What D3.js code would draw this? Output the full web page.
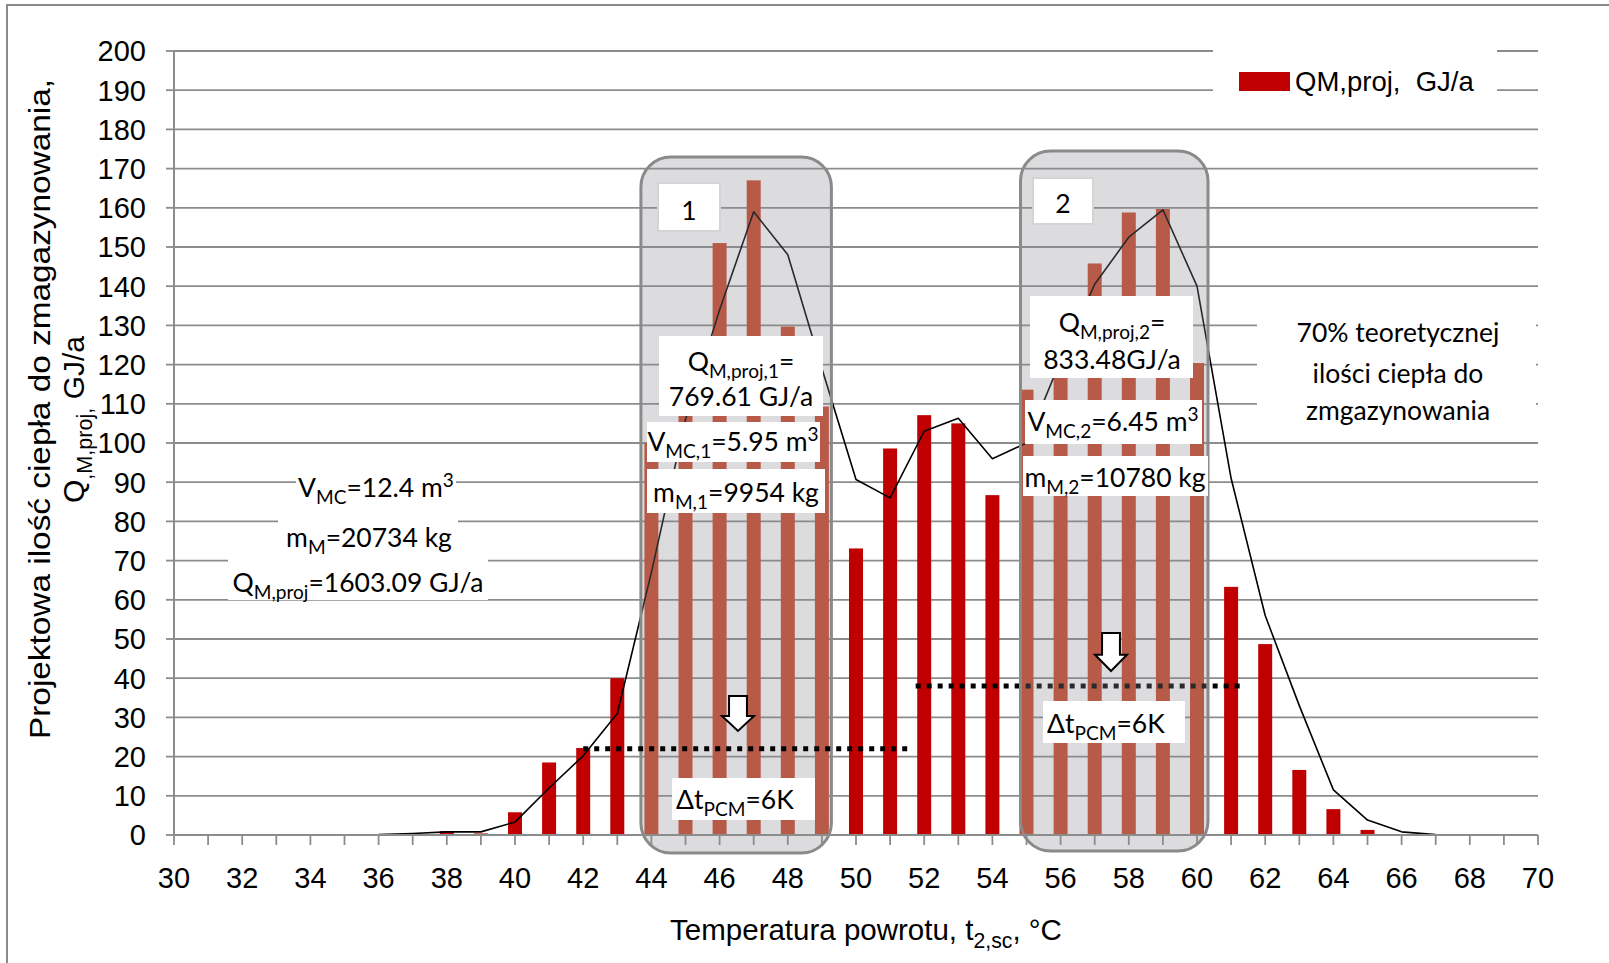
<!DOCTYPE html>
<html>
<head>
<meta charset="utf-8">
<script src="https://cdn.jsdelivr.net/npm/d3@7"></script>
<style>
  body { margin: 0; background: #fff; }
  svg { display: block; }
</style>
</head>
<body>
<svg id="chart" width="1609" height="963"></svg>
<script>
// Return temperature classes (°C) and design heat to be stored per class (GJ/a)
const temps = d3.range(31, 70);
const storedHeat = [
  0, 0, 0, 0, 0, 0, 0,            // 31–37
  1.0, 0.4, 5.8, 18.5, 22.2, 40,  // 38–43
  100, 112.5, 151, 167, 129.7, 109.3, // 44–49 (zone 1)
  73.1, 98.6, 107.1, 105, 86.7,   // 50–54
  113.6, 135.2, 145.8, 158.8, 159.7, 120.4, // 55–60 (zone 2)
  63.3, 48.7, 16.6, 6.6, 1.3,     // 61–65
  0, 0, 0, 0                      // 66–69
];

// Theoretical heat distribution curve
const curveTemps = d3.range(30, 71);
const curveHeat = [
  0, 0, 0, 0, 0, 0, 0.1, 0.4, 0.8, 0.8,
  3.3, 12, 20.2, 31, 67, 106, 134, 159, 148, 119,
  90.7, 86, 103, 106.3, 96, 100, 121, 140.5, 152.5, 159.5,
  140, 91, 56, 33, 11.5, 3.8, 0.8, 0.1, 0, 0, 0
];

const xTickLabels = d3.range(30, 71, 2);
const yTickLabels = d3.range(0, 201, 10);

// Storage zones (first and last temperature class in each)
const zoneStart = [44, 55];
const zoneEnd = [49, 60];
const zoneNames = ["1", "2"];

// PCM temperature-difference levels: [from °C, to °C, GJ/a]
const pcmFrom = [42, 51.75];
const pcmTo = [51.6, 61.4];
const pcmLevel = [22, 38];

const svg = d3.select("#chart");
const ARIAL = "'Liberation Sans', Arial, sans-serif";
const LABEL = "Lato, 'Open Sans', sans-serif";

const x = d3.scaleLinear().domain([30, 70]).range([174, 1538]);
const y = d3.scaleLinear().domain([0, 200]).range([835, 51]);
const unit = x(1) - x(0);
const barW = unit * 0.41;
const inZone = t => zoneStart.some((s, i) => t >= s && t <= zoneEnd[i]);

// Outer chart frame
svg.append("rect").attr("x", 7).attr("y", 5).attr("width", 1700).attr("height", 1100)
  .attr("fill", "none").attr("stroke", "#8a8a8a").attr("stroke-width", 2);

// Horizontal gridlines
svg.append("g").selectAll("line").data(yTickLabels.filter(d => d > 0)).join("line")
  .attr("x1", x(30)).attr("x2", x(70))
  .attr("y1", d => y(d)).attr("y2", d => y(d))
  .attr("stroke", "#8c8c8c").attr("stroke-width", 1.8);

// Bars (zone classes use a warmer tone under the zone shading)
svg.append("g").selectAll("rect").data(temps.map((t, i) => ({ t, v: storedHeat[i] })))
  .join("rect")
  .attr("x", d => x(d.t) - barW / 2)
  .attr("width", barW)
  .attr("y", d => y(d.v))
  .attr("height", d => y(0) - y(d.v))
  .attr("fill", d => inZone(d.t) ? "rgb(204,69,41)" : "#c00000");

// Distribution curve
svg.append("path")
  .datum(curveTemps.map((t, i) => [t, curveHeat[i]]))
  .attr("fill", "none").attr("stroke", "#000").attr("stroke-width", 1.6)
  .attr("stroke-linejoin", "round")
  .attr("d", d3.line().x(d => x(d[0])).y(d => y(d[1])));

function pcmLine(i) {
  svg.append("line")
    .attr("x1", x(pcmFrom[i])).attr("x2", x(pcmTo[i]))
    .attr("y1", y(pcmLevel[i])).attr("y2", y(pcmLevel[i]))
    .attr("stroke", "#000").attr("stroke-width", 5)
    .attr("stroke-dasharray", "5 6");
}
pcmLine(1);

// Zone shading
const zonePad = [[10.5, 9.5], [6, 11]];
const zoneTop = [157, 151];
const zoneBottom = [853, 851];
zoneStart.forEach((s, i) => {
  const x0 = x(s) - zonePad[i][0], x1 = x(zoneEnd[i]) + zonePad[i][1];
  svg.append("rect")
    .attr("x", x0).attr("y", zoneTop[i])
    .attr("width", x1 - x0).attr("height", zoneBottom[i] - zoneTop[i])
    .attr("rx", 30).attr("ry", 30)
    .attr("fill", "rgb(138,140,145)").attr("fill-opacity", 0.3)
    .attr("stroke", "#8a8a8a").attr("stroke-width", 3);
});

pcmLine(0);

// Axes
const gy = svg.append("g");
gy.append("line").attr("x1", x(30)).attr("x2", x(30)).attr("y1", y(200)).attr("y2", y(0))
  .attr("stroke", "#8c8c8c").attr("stroke-width", 2);
gy.selectAll(".tk").data(yTickLabels).join("line")
  .attr("x1", x(30) - 8).attr("x2", x(30))
  .attr("y1", d => y(d)).attr("y2", d => y(d))
  .attr("stroke", "#8c8c8c").attr("stroke-width", 1.8);
gy.selectAll("text").data(yTickLabels).join("text")
  .attr("x", 146).attr("y", d => y(d)).attr("dy", "0.36em")
  .attr("text-anchor", "end").attr("font-family", ARIAL).attr("font-size", 29)
  .text(d => d);

const gx = svg.append("g");
gx.append("line").attr("x1", x(30)).attr("x2", x(70)).attr("y1", y(0)).attr("y2", y(0))
  .attr("stroke", "#8c8c8c").attr("stroke-width", 2);
gx.selectAll("line.tk").data(d3.range(30, 71)).join("line")
  .attr("class", "tk")
  .attr("x1", d => x(d)).attr("x2", d => x(d))
  .attr("y1", y(0)).attr("y2", y(0) + 10)
  .attr("stroke", "#8c8c8c").attr("stroke-width", 1.8);
gx.selectAll("text").data(xTickLabels).join("text")
  .attr("x", d => x(d)).attr("y", 888)
  .attr("text-anchor", "middle").attr("font-family", ARIAL).attr("font-size", 29)
  .text(d => d);

// Text with sub/superscript runs
function rich(parent, parts, fs, family) {
  const t = parent.append("text").attr("font-size", fs).attr("font-family", family);
  let shift = 0;
  parts.forEach(([s, kind]) => {
    const target = kind === "sub" ? 0.26 * fs : kind === "sup" ? -0.36 * fs : 0;
    const ts = t.append("tspan").text(s);
    if (target - shift !== 0) ts.attr("dy", target - shift);
    if (kind) ts.attr("font-size", fs * 0.72);
    shift = target;
  });
  return t;
}

// Axis titles
rich(svg, [["Temperatura powrotu, t"], ["2,sc", "sub"], [", °C"]], 29.5, ARIAL)
  .attr("x", 866).attr("y", 940).attr("text-anchor", "middle");

svg.append("text")
  .attr("font-family", ARIAL).attr("font-size", 29)
  .attr("textLength", 660).attr("lengthAdjust", "spacingAndGlyphs")
  .attr("transform", "translate(50,739) rotate(-90)")
  .text("Projektowa ilość ciepła do zmagazynowania,");
rich(svg, [["Q"], [",M,proj,", "sub"], [" GJ/a"]], 30, ARIAL)
  .attr("text-anchor", "start")
  .attr("transform", "translate(84,503) rotate(-90)");

// Annotation boxes
function box(x0, y0, x1, y1, stroke) {
  const r = svg.append("rect").attr("x", x0).attr("y", y0)
    .attr("width", x1 - x0).attr("height", y1 - y0).attr("fill", "#fff");
  if (stroke) r.attr("stroke", stroke).attr("stroke-width", 2);
  return r;
}
const FS = 26.5;
function note(cx, by, parts, anchor = "middle") {
  return rich(svg, parts, FS, LABEL).attr("x", cx).attr("y", by).attr("text-anchor", anchor);
}

// Zone 1
box(659, 336, 823, 416);
note(741, 371, [["Q"], ["M,proj,1", "sub"], ["="]]);
note(741, 406, [["769.61 GJ/a"]]);
box(647, 422, 820, 462);
note(733, 451, [["V"], ["MC,1", "sub"], ["=5.95 m"], ["3", "sup"]]);
box(647, 469, 825, 513);
note(736, 502, [["m"], ["M,1", "sub"], ["=9954 kg"]]);
box(672, 778, 815, 820);
note(676, 809, [["Δt"], ["PCM", "sub"], ["=6K"]], "start");

// Zone 2
box(1030, 296, 1193, 378);
note(1112, 332, [["Q"], ["M,proj,2", "sub"], ["="]]);
note(1112, 369, [["833.48GJ/a"]]);
box(1025, 400, 1202, 444);
note(1113, 431, [["V"], ["MC,2", "sub"], ["=6.45 m"], ["3", "sup"]]);
box(1023, 456, 1208, 496);
note(1115, 487, [["m"], ["M,2", "sub"], ["=10780 kg"]]);
box(1043, 701, 1185, 743);
note(1047, 733, [["Δt"], ["PCM", "sub"], ["=6K"]], "start");

// Zone labels
box(658, 183, 720, 231, "#d4d4d4");
note(689, 220, [[zoneNames[0]]]);
box(1033, 178, 1093, 224, "#d4d4d4");
note(1063, 213, [[zoneNames[1]]]);

// Totals
box(296, 460, 456, 504);
note(376, 497, [["V"], ["MC", "sub"], ["=12.4 m"], ["3", "sup"]]);
box(278, 508, 458, 552);
note(369, 547, [["m"], ["M", "sub"], ["=20734 kg"]]);
box(228, 556, 488, 600);
note(358, 592, [["Q"], ["M,proj", "sub"], ["=1603.09 GJ/a"]]);

// 70 % note
box(1257, 300, 1536, 436);
note(1398, 342, [["70% teoretycznej"]]);
note(1398, 383, [["ilości ciepła do"]]);
note(1398, 420, [["zmgazynowania"]]);

// Down arrows
function arrow(x0, y0, w, h) {
  const sw = w * 0.56, hh = h * 0.43;
  const cx = x0 + w / 2;
  const pts = [
    [cx - sw / 2, y0], [cx + sw / 2, y0], [cx + sw / 2, y0 + h - hh],
    [x0 + w, y0 + h - hh], [cx, y0 + h], [x0, y0 + h - hh], [cx - sw / 2, y0 + h - hh]
  ];
  svg.append("polygon").attr("points", pts.map(p => p.join(",")).join(" "))
    .attr("fill", "#fff").attr("stroke", "#000").attr("stroke-width", 2)
    .attr("stroke-linejoin", "miter");
}
arrow(722, 696, 32, 35);
arrow(1095, 633, 32, 38);

// Legend
svg.append("rect").attr("x", 1213).attr("y", 46).attr("width", 284).attr("height", 65).attr("fill", "#fff");
svg.append("rect").attr("x", 1239).attr("y", 72).attr("width", 51).attr("height", 19).attr("fill", "#c00000");
svg.append("text").attr("x", 1295).attr("y", 91).attr("font-family", ARIAL).attr("font-size", 27.5)
  .style("white-space", "pre")
  .text("QM,proj,  GJ/a");
</script>
</body>
</html>
